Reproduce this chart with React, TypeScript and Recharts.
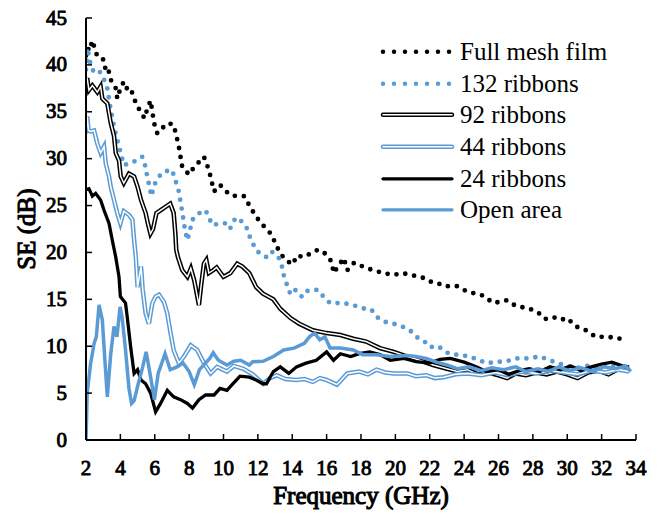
import React from "react";
import { LineChart, Line, XAxis, YAxis, Legend, Label } from "recharts";

const BLUE = "#5B9BD5";
const BLACK = "#000000";
const FONT = "Liberation Serif";

const xTicks = [2, 4, 6, 8, 10, 12, 14, 16, 18, 20, 22, 24, 26, 28, 30, 32, 34];
const yTicks = [0, 5, 10, 15, 20, 25, 30, 35, 40, 45];

// Full mesh film
const fullF = [2.0, 2.1, 2.2, 2.37, 2.5, 2.66, 2.85, 3.05, 3.15, 3.3, 3.44, 3.6, 3.73, 3.82, 4.0, 4.2, 4.4, 4.6, 4.8, 5.0, 5.2, 5.4, 5.6, 5.76, 5.96, 6.15, 6.35, 6.54, 6.8, 7.1, 7.25, 7.4, 7.6, 8.0, 8.25, 8.5, 8.86, 9.15, 9.45, 9.8, 10.1, 10.4, 10.8, 11.2, 11.6, 11.9, 12.3, 12.8, 13.1, 13.5, 14.0, 14.3, 14.6, 15.1, 15.5, 15.9, 16.3, 16.4, 17.0, 17.2, 17.6, 18.1, 18.7, 19.3, 19.9, 20.4, 20.9, 21.6, 22.0, 22.4, 22.8, 23.6, 24.2, 24.7, 25.1, 25.7, 26.5, 27.0, 27.8, 28.3, 28.7, 29.2, 29.6, 30.0, 30.5, 31.0, 31.65, 32.4, 33.0, 33.5];
const fullV = [41.0, 41.8, 41.5, 42.6, 41.8, 40.9, 40.8, 40.5, 39.3, 39.5, 38.4, 38.0, 37.5, 36.4, 37.5, 38.2, 37.4, 37.5, 36.4, 35.5, 35.0, 34.3, 35.5, 36.2, 33.8, 32.7, 33.2, 33.4, 33.8, 33.6, 32.5, 31.3, 29.1, 28.3, 29.0, 29.5, 30.2, 28.8, 26.5, 27.2, 26.6, 26.1, 26.0, 26.0, 24.7, 23.8, 22.9, 21.9, 20.6, 19.4, 18.7, 19.7, 19.5, 19.9, 20.3, 19.9, 19.0, 17.8, 19.4, 18.1, 18.9, 18.5, 18.1, 17.8, 17.6, 17.8, 17.6, 17.3, 16.9, 16.8, 16.4, 16.4, 15.8, 15.6, 15.4, 14.6, 14.9, 14.3, 14.0, 13.6, 12.9, 13.1, 12.8, 13.0, 12.1, 11.8, 11.0, 11.0, 10.8, 11.0];

// 132 ribbons
const r132F = [2.0, 2.1, 2.2, 2.4, 2.66, 2.95, 3.1, 3.24, 3.44, 3.63, 3.82, 4.02, 4.2, 4.5, 4.8, 5.05, 5.27, 5.47, 5.56, 5.7, 5.8, 6.0, 6.25, 6.5, 7.0, 7.2, 7.4, 7.5, 7.6, 7.76, 7.9, 8.2, 8.6, 8.96, 9.35, 9.8, 10.3, 10.4, 10.7, 10.96, 11.35, 11.6, 11.9, 12.1, 12.5, 12.8, 13.2, 13.4, 13.5, 13.7, 13.9, 14.2, 14.55, 14.7, 15.1, 15.5, 15.9, 16.2, 16.6, 17.0, 17.45, 17.9, 18.2, 18.6, 19.0, 19.4, 19.9, 20.4, 20.9, 21.3, 21.7, 22.0, 22.5, 22.9, 23.3, 23.7, 24.3, 24.6, 25.3, 26.1, 26.7, 27.05, 27.7, 28.4, 29.0, 29.4, 30.0, 30.6, 31.2, 31.8, 32.4, 33.0, 33.6];
const r132V = [39.5, 41.8, 40.5, 39.4, 39.6, 38.9, 38.2, 37.5, 35.2, 33.4, 32.0, 30.6, 29.3, 29.5, 29.7, 29.9, 30.2, 29.1, 28.1, 27.0, 26.0, 27.3, 28.1, 28.6, 28.8, 27.7, 26.5, 25.4, 24.3, 22.4, 21.3, 23.5, 24.2, 24.5, 22.9, 23.1, 23.1, 22.6, 23.7, 23.5, 22.6, 21.3, 20.3, 19.9, 19.5, 20.1, 19.5, 18.5, 17.6, 16.5, 15.5, 16.0, 15.3, 15.8, 16.0, 16.0, 15.1, 14.6, 14.6, 14.6, 14.4, 14.2, 14.0, 13.9, 13.0, 12.6, 12.4, 12.1, 11.6, 10.9, 10.5, 9.9, 10.0, 9.4, 9.1, 9.1, 8.9, 8.7, 8.2, 8.35, 8.5, 8.7, 8.7, 8.9, 8.5, 8.2, 7.9, 7.7, 7.9, 7.6, 8.0, 7.7, 7.5];

// 92 ribbons
const r92F = [2.0, 2.07, 2.17, 2.37, 2.66, 2.85, 2.95, 3.24, 3.44, 3.63, 3.73, 3.92, 4.02, 4.2, 4.5, 4.8, 5.0, 5.2, 5.47, 5.6, 5.75, 5.9, 6.1, 6.5, 6.9, 7.1, 7.2, 7.25, 7.35, 7.6, 7.9, 8.1, 8.3, 8.57, 8.7, 8.86, 9.0, 9.15, 9.4, 9.6, 10.0, 10.4, 10.8, 11.1, 11.5, 11.9, 12.3, 12.9, 13.3, 13.9, 14.4, 15.2, 16.0, 16.8, 17.55, 18.3, 19.1, 19.9, 20.7, 21.4, 22.2, 23.0, 23.6, 24.2, 24.8, 25.4, 26.0, 26.5, 27.0, 27.6, 28.2, 28.8, 29.4, 30.0, 30.6, 31.2, 31.8, 32.4, 33.0, 33.6];
const r92V = [38.0, 38.6, 37.3, 37.8, 37.1, 37.7, 36.4, 35.9, 33.8, 32.4, 30.6, 29.8, 28.1, 27.4, 28.4, 28.1, 27.0, 25.6, 24.2, 23.1, 22.0, 22.5, 24.2, 24.7, 25.2, 24.2, 22.0, 20.3, 19.5, 18.1, 17.4, 18.3, 17.0, 14.4, 16.5, 18.8, 19.2, 17.8, 18.1, 18.4, 17.4, 17.8, 18.8, 18.5, 17.8, 16.3, 15.6, 15.0, 14.0, 13.0, 12.4, 11.7, 11.4, 11.2, 10.8, 10.5, 9.8, 9.4, 8.9, 8.5, 8.0, 7.6, 7.3, 7.5, 7.0, 7.2, 6.9, 6.6, 7.1, 6.9, 7.2, 7.0, 7.3, 7.0, 6.6, 7.2, 7.4, 7.0, 7.6, 7.5];

// 44 ribbons
const r44F = [2.0, 2.07, 2.15, 2.27, 2.47, 2.66, 2.85, 3.05, 3.15, 3.34, 3.44, 3.63, 3.82, 4.0, 4.2, 4.5, 4.7, 4.8, 4.9, 5.0, 5.2, 5.3, 5.47, 5.66, 5.86, 6.05, 6.25, 6.54, 6.73, 6.92, 7.1, 7.4, 7.7, 8.1, 8.47, 8.86, 9.25, 9.63, 10.2, 10.6, 11.15, 11.7, 12.3, 12.7, 13.1, 13.6, 14.25, 14.7, 15.2, 15.6, 16.0, 16.6, 17.2, 17.9, 18.4, 18.9, 19.4, 19.9, 20.7, 21.2, 21.8, 22.3, 22.8, 23.5, 24.2, 25.0, 25.8, 26.6, 27.4, 28.2, 29.0, 29.8, 30.6, 31.4, 32.2, 33.0, 33.6];
const r44V = [32.7, 34.5, 33.0, 32.9, 33.0, 31.6, 30.6, 31.3, 29.5, 28.1, 27.0, 25.6, 24.2, 23.1, 24.4, 24.0, 23.5, 21.3, 19.5, 16.3, 18.5, 16.0, 13.5, 12.4, 14.6, 15.3, 15.5, 14.7, 13.5, 11.4, 9.6, 8.2, 8.9, 10.1, 9.6, 8.2, 7.1, 7.8, 7.3, 7.9, 7.6, 7.0, 6.0, 6.6, 6.9, 6.5, 6.4, 6.5, 6.2, 6.6, 6.4, 5.9, 7.1, 7.3, 7.0, 7.5, 7.2, 7.1, 7.1, 6.8, 6.9, 6.6, 6.7, 7.0, 7.1, 6.9, 7.2, 6.9, 7.3, 7.1, 7.4, 7.2, 7.0, 7.4, 7.2, 7.5, 7.3];

// 24 ribbons
const r24F = [2.0, 2.17, 2.37, 2.56, 2.85, 3.05, 3.34, 3.53, 3.73, 3.92, 4.0, 4.3, 4.4, 4.6, 4.8, 5.0, 5.2, 5.47, 5.76, 6.05, 6.34, 6.73, 7.1, 7.5, 7.9, 8.2, 8.57, 8.96, 9.45, 9.8, 10.2, 10.5, 10.96, 11.5, 11.9, 12.3, 12.5, 12.9, 13.3, 13.8, 14.25, 14.8, 15.4, 16.0, 16.4, 16.8, 17.4, 17.9, 18.5, 19.1, 19.7, 20.5, 21.2, 22.0, 22.6, 23.2, 24.0, 24.7, 25.3, 26.0, 26.6, 27.2, 27.8, 28.4, 29.0, 29.6, 30.2, 30.8, 31.4, 32.0, 32.6, 33.2, 33.6];
const r24V = [26.7, 26.8, 26.0, 26.3, 25.6, 24.5, 23.1, 21.3, 19.5, 17.4, 15.3, 14.6, 13.1, 9.9, 7.1, 7.5, 6.4, 6.0, 5.0, 3.0, 3.9, 5.3, 4.6, 4.3, 3.9, 3.4, 4.3, 4.8, 4.8, 5.5, 5.3, 5.9, 6.8, 6.7, 6.4, 6.0, 6.0, 7.3, 7.8, 7.1, 7.8, 8.2, 8.5, 9.4, 8.5, 9.2, 8.9, 9.2, 9.4, 9.1, 8.5, 8.7, 8.35, 8.2, 8.6, 8.7, 8.3, 7.8, 7.3, 7.5, 7.0, 7.4, 7.6, 7.3, 7.8, 7.5, 7.9, 7.4, 7.8, 8.1, 8.3, 7.9, 7.8];

// Open area
const openF = [2.0, 2.07, 2.27, 2.37, 2.47, 2.6, 2.76, 2.95, 3.1, 3.24, 3.44, 3.63, 3.8, 3.98, 4.1, 4.3, 4.5, 4.65, 4.8, 5.04, 5.3, 5.5, 5.76, 5.98, 6.2, 6.6, 6.9, 7.3, 7.65, 8.0, 8.3, 8.6, 9.2, 9.4, 9.7, 10.2, 10.6, 11.0, 11.5, 11.7, 12.3, 12.9, 13.5, 14.1, 14.7, 15.0, 15.3, 15.6, 15.9, 16.2, 16.8, 17.55, 18.1, 18.9, 19.7, 20.7, 21.2, 21.8, 22.4, 23.0, 23.6, 24.3, 25.0, 25.6, 26.3, 27.0, 27.6, 28.3, 28.9, 29.5, 30.1, 30.8, 31.5, 32.1, 32.8, 33.4, 33.7];
const openV = [0, 5.0, 8.2, 9.2, 10.3, 11.0, 14.4, 12.8, 8.5, 4.6, 9.2, 12.1, 11.0, 14.2, 13.1, 9.6, 5.5, 3.9, 4.2, 6.0, 7.8, 9.4, 6.7, 4.3, 7.1, 9.2, 7.5, 7.8, 8.2, 7.3, 5.9, 7.5, 8.7, 9.3, 8.5, 8.0, 8.4, 8.5, 8.0, 8.35, 8.4, 8.9, 9.6, 9.8, 10.3, 11.0, 11.4, 10.7, 11.0, 9.8, 9.8, 9.6, 9.1, 9.1, 8.9, 9.0, 8.9, 8.7, 8.3, 8.0, 7.6, 7.8, 7.4, 7.7, 7.5, 7.8, 7.3, 7.6, 7.3, 7.8, 7.4, 7.7, 7.3, 7.8, 7.6, 7.9, 7.3];

const toPoints = (f: number[], v: number[]) => f.map((x, i) => ({ f: x, v: v[i] }));

const fullData = toPoints(fullF, fullV);
const r132Data = toPoints(r132F, r132V);
const r92Data = toPoints(r92F, r92V);
const r44Data = toPoints(r44F, r44V);
const r24Data = toPoints(r24F, r24V);
const openData = toPoints(openF, openV);

const legendRows = [
  { name: "Full mesh film", kind: "dots", color: BLACK },
  { name: "132 ribbons", kind: "dots", color: BLUE },
  { name: "92 ribbons", kind: "double", color: BLACK },
  { name: "44 ribbons", kind: "double", color: BLUE },
  { name: "24 ribbons", kind: "solid", color: BLACK },
  { name: "Open area", kind: "solid", color: BLUE },
];

function LegendBox() {
  return (
    <div style={{ fontFamily: FONT, fontSize: 25, color: BLACK }}>
      {legendRows.map((row) => (
        <div key={row.name} style={{ display: "flex", alignItems: "center", height: 31.7 }}>
          <svg width={80} height={31.7}>
            {row.kind === "dots" && (
              <line x1={3} x2={72} y1={15.85} y2={15.85} stroke={row.color} strokeWidth={4.5} strokeDasharray="0 11" strokeLinecap="round" />
            )}
            {row.kind === "double" && (
              <g>
                <line x1={3} x2={72} y1={15.85} y2={15.85} stroke={row.color} strokeWidth={4.5} strokeLinecap="round" />
                <line x1={3} x2={72} y1={15.85} y2={15.85} stroke="#fff" strokeWidth={1.5} strokeLinecap="round" />
              </g>
            )}
            {row.kind === "solid" && (
              <line x1={3} x2={72} y1={15.85} y2={15.85} stroke={row.color} strokeWidth={3.3} strokeLinecap="round" />
            )}
          </svg>
          <span style={{ lineHeight: "31.7px", whiteSpace: "nowrap" }}>{row.name}</span>
        </div>
      ))}
    </div>
  );
}

// the bold serif face is missing here, so regular serif text is thickened with a text stroke
function HtmlText({ x, y, w, h, align, size, children }: any) {
  return (
    <foreignObject x={x} y={y} width={w} height={h}>
      <div
        style={{
          width: w,
          height: h,
          display: "flex",
          alignItems: "center",
          justifyContent: align,
          fontFamily: FONT,
          fontWeight: 400,
          fontSize: size,
          color: BLACK,
          WebkitTextStroke: size > 22 ? "1.1px #000" : "0.9px #000",
          lineHeight: 1,
          whiteSpace: "nowrap",
        }}
      >
        {children}
      </div>
    </foreignObject>
  );
}

function XTick(props: any) {
  const { x, y, payload } = props;
  return (
    <HtmlText x={x - 30} y={y} w={60} h={24} align="center" size={21}>
      {payload.value}
    </HtmlText>
  );
}

function YTick(props: any) {
  const { x, y, payload } = props;
  return (
    <HtmlText x={x - 60} y={y - 12} w={60} h={24} align="flex-end" size={21}>
      {payload.value}
    </HtmlText>
  );
}

function XTitle(props: any) {
  const { viewBox } = props;
  return (
    <HtmlText x={viewBox.x} y={viewBox.y + viewBox.height - 36} w={viewBox.width} h={30} align="center" size={25}>
      Frequency (GHz)
    </HtmlText>
  );
}

function YTitle(props: any) {
  const { viewBox } = props;
  const cx = 26;
  const cy = viewBox.y + viewBox.height / 2;
  return (
    <g transform={`rotate(-90 ${cx} ${cy})`}>
      <HtmlText x={cx - 70} y={cy - 15} w={140} h={30} align="center" size={25}>
        SE (dB)
      </HtmlText>
    </g>
  );
}

export default function App() {
  return (
    <div style={{ position: "absolute", left: 0, top: 0, background: "#fff" }}>
      <LineChart width={664} height={516} margin={{ top: 18, right: 28, left: 0, bottom: 0 }}>
        <XAxis
          dataKey="f"
          type="number"
          domain={[2, 34]}
          ticks={xTicks}
          interval={0}
          allowDataOverflow
          height={76}
          tickSize={-6}
          tickMargin={22}
          tick={<XTick />}
          axisLine={{ stroke: BLACK, strokeWidth: 2 }}
          tickLine={{ stroke: BLACK, strokeWidth: 1.5 }}
        >
          <Label content={<XTitle />} />
        </XAxis>
        <XAxis xAxisId="top" orientation="top" type="number" domain={[2, 34]} height={0} tick={false} tickLine={false} axisLine={{ stroke: BLACK, strokeWidth: 1.2 }} />
        <YAxis
          type="number"
          domain={[0, 45]}
          ticks={yTicks}
          interval={0}
          allowDataOverflow
          width={86}
          tickSize={-6}
          tickMargin={25}
          tick={<YTick />}
          axisLine={{ stroke: BLACK, strokeWidth: 2 }}
          tickLine={{ stroke: BLACK, strokeWidth: 1.5 }}
        >
          <Label content={<YTitle />} />
        </YAxis>
        <YAxis yAxisId="right" orientation="right" domain={[0, 45]} width={0} tick={false} tickLine={false} axisLine={{ stroke: BLACK, strokeWidth: 1.2 }} />

        <Line data={fullData} dataKey="v" type="linear" stroke={BLACK} strokeWidth={4.8} strokeDasharray="0 9" strokeLinecap="round" dot={false} activeDot={false} isAnimationActive={false} />
        <Line data={r132Data} dataKey="v" type="linear" stroke={BLUE} strokeWidth={4.8} strokeDasharray="0 9" strokeLinecap="round" dot={false} activeDot={false} isAnimationActive={false} />
        <Line data={r92Data} dataKey="v" type="linear" stroke={BLACK} strokeWidth={4.5} dot={false} activeDot={false} isAnimationActive={false} />
        <Line data={r92Data} dataKey="v" type="linear" stroke="#fff" strokeWidth={1.5} dot={false} activeDot={false} isAnimationActive={false} />
        <Line data={r44Data} dataKey="v" type="linear" stroke={BLUE} strokeWidth={4.5} dot={false} activeDot={false} isAnimationActive={false} />
        <Line data={r44Data} dataKey="v" type="linear" stroke="#fff" strokeWidth={1.5} dot={false} activeDot={false} isAnimationActive={false} />
        <Line data={r24Data} dataKey="v" type="linear" stroke={BLACK} strokeWidth={3.3} dot={false} activeDot={false} isAnimationActive={false} />
        <Line data={openData} dataKey="v" type="linear" stroke={BLUE} strokeWidth={3.5} dot={false} activeDot={false} isAnimationActive={false} />

        <Legend
          layout="vertical"
          align="center"
          verticalAlign="middle"
          content={<LegendBox />}
          wrapperStyle={{ left: 380, top: 35.85, width: 270 }}
        />
      </LineChart>
    </div>
  );
}
